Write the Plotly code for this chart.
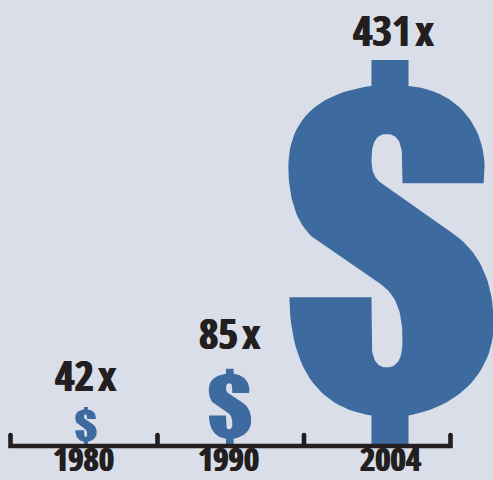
import plotly.graph_objects as go

# Chart data
YEARS = ["1980", "1990", "2004"]
MULTIPLES = [42, 85, 431]
LABELS = ["42\u200ax", "85\u200ax", "431\u200ax"]

# Horizontal layout of the timeline, in pixels
CENTERS = [86, 230, 391]
LABEL_CENTERS = [85, 229, 393]
LABEL_LIFT = [2, 6, 0]
YEAR_CENTERS = [83.5, 228.5, 390]
EDGES = [10.5, 157.5, 304, 450.5]
WIDTH_BOOST = [1.08, 1.05, 1.0]  # small symbols are cut slightly wider

WIDTH, HEIGHT = 493, 480
BLUE = "#3d6b9f"
INK = "#231f20"
PAPER = "#dadee8"

# Value axis: 1 unit of the multiple is PX_PER_UNIT pixels tall
PX_PER_UNIT = 384.5 / 431
BASE_PX = 444.5
Y_MIN = -(HEIGHT - BASE_PX) / PX_PER_UNIT
Y_MAX = BASE_PX / PX_PER_UNIT

# Outline of the dollar symbol: start point, then lines (2 values) and cubic curves (6 values)
S_START = (372, 60)
S_SEGMENTS = [
    (409, 60), (409, 86),
    (455, 90, 483, 122, 485, 165),
    (484, 183), (403, 183), (403, 165),
    (403, 145, 400, 134, 387, 134),
    (375, 134, 372, 145, 372, 160),
    (372, 172, 375, 178, 382, 183),
    (453, 233),
    (475, 248, 494, 275, 494, 323),
    (494, 375, 455, 407, 409, 415),
    (409, 444), (372, 444), (372, 415),
    (325, 408, 291, 375, 290, 297),
    (372, 297), (372, 340),
    (372, 355, 375, 367, 387, 367),
    (400, 367, 403, 355, 403, 340),
    (403, 318, 400, 296, 380, 283),
    (317, 240),
    (297, 226, 289, 197, 289, 167),
    (289, 115, 325, 92, 372, 86),
    (372, 60),
]
S_LEFT, S_RIGHT, S_TOP, S_BOTTOM = 289, 494, 60, 444


def flatten_outline(steps=24):
    pts = [S_START]
    for seg in S_SEGMENTS:
        if len(seg) == 2:
            pts.append(seg)
            continue
        x0, y0 = pts[-1]
        x1, y1, x2, y2, x3, y3 = seg
        for i in range(1, steps + 1):
            t = i / steps
            u = 1 - t
            pts.append((
                u**3 * x0 + 3 * u**2 * t * x1 + 3 * u * t**2 * x2 + t**3 * x3,
                u**3 * y0 + 3 * u**2 * t * y1 + 3 * u * t**2 * y2 + t**3 * y3,
            ))
    return pts


OUTLINE = flatten_outline()
S_HEIGHT = S_BOTTOM - S_TOP
S_MID = (S_LEFT + S_RIGHT) / 2

fig = go.Figure()

# One dollar symbol per year; its height on the y axis equals the multiple
for value, center, boost in zip(MULTIPLES, CENTERS, WIDTH_BOOST):
    scale = value * PX_PER_UNIT / S_HEIGHT
    xs = [center + (x - S_MID) * scale * boost for x, _ in OUTLINE]
    ys = [(S_BOTTOM - y) / S_HEIGHT * value for _, y in OUTLINE]
    fig.add_trace(go.Scatter(x=xs, y=ys, mode="lines", fill="toself", fillcolor=BLUE,
                             line=dict(width=0), hoverinfo="skip", showlegend=False))

# Timeline with upward ticks at the period boundaries
AXIS_Y = (BASE_PX - 446) / PX_PER_UNIT
TICK_Y = (BASE_PX - 435) / PX_PER_UNIT
fig.add_trace(go.Scatter(x=EDGES[:1] * 2 + EDGES[3:] * 2, y=[TICK_Y, AXIS_Y, AXIS_Y, TICK_Y],
                         mode="lines", line=dict(color=INK, width=4.6), hoverinfo="skip",
                         showlegend=False))
for edge in EDGES[1:3]:
    fig.add_trace(go.Scatter(x=[edge, edge], y=[TICK_Y, AXIS_Y], mode="lines",
                             line=dict(color=INK, width=4.6), hoverinfo="skip", showlegend=False))
fig.add_trace(go.Scatter(x=EDGES, y=[TICK_Y] * 4, mode="markers",
                         marker=dict(color=INK, size=4.6), hoverinfo="skip", showlegend=False))

HEAVY = "Open Sans Condensed, Roboto Condensed, sans-serif"
SHADOW = f"0.7px 0 0 {INK}, -0.7px 0 0 {INK}"

for value, label, cx, lift in zip(MULTIPLES, LABELS, LABEL_CENTERS, LABEL_LIFT):
    fig.add_annotation(x=cx, y=value, text=label, showarrow=False, yanchor="bottom",
                       yshift=lift, font=dict(family=HEAVY, size=42, weight=900, color=INK, shadow=SHADOW))

for year, cx in zip(YEARS, YEAR_CENTERS):
    fig.add_annotation(x=cx, y=Y_MIN, text=year, showarrow=False, yanchor="bottom",
                       yshift=-3, font=dict(family=HEAVY, size=33, weight=900, color=INK, shadow=SHADOW))

fig.update_layout(
    width=WIDTH, height=HEIGHT, margin=dict(l=0, r=0, t=0, b=0),
    paper_bgcolor=PAPER, plot_bgcolor=PAPER, showlegend=False,
    xaxis=dict(range=[0, WIDTH], visible=False, fixedrange=True),
    yaxis=dict(range=[Y_MIN, Y_MAX], visible=False, fixedrange=True),
)
fig.write_html("out.html", config=dict(displayModeBar=False))
